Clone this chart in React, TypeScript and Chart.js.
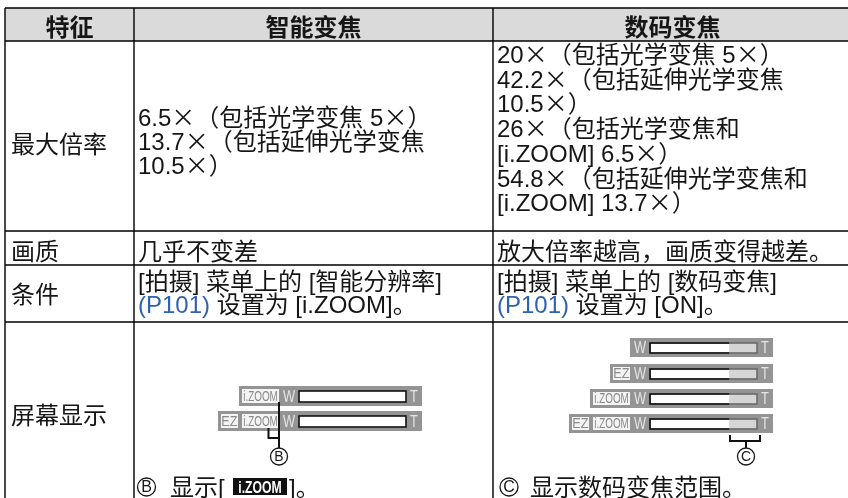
import React, { useEffect, useRef } from "react";
import { Chart, registerables } from "chart.js";

Chart.register(...registerables);

// ---------------- content ----------------
const columnHeaders = ["特征", "智能变焦", "数码变焦"];
const rowLabels = ["最大倍率", "画质", "条件", "屏幕显示"];

const smartZoomMaxLines = ["6.5×（包括光学变焦 5×）", "13.7×（包括延伸光学变焦", "10.5×）"];
const digitalZoomMaxLines = [
  "20×（包括光学变焦 5×）",
  "42.2×（包括延伸光学变焦",
  "10.5×）",
  "26×（包括光学变焦和",
  "[i.ZOOM] 6.5×）",
  "54.8×（包括延伸光学变焦和",
  "[i.ZOOM] 13.7×）",
];
const qualityTexts = ["几乎不变差", "放大倍率越高，画质变得越差。"];

type Seg = { t: string; link?: boolean };
const smartConditionLines: Seg[][] = [
  [{ t: "[拍摄] 菜单上的 [智能分辨率]" }],
  [{ t: "(P101)", link: true }, { t: " 设置为 [i.ZOOM]。" }],
];
const digitalConditionLines: Seg[][] = [
  [{ t: "[拍摄] 菜单上的 [数码变焦]" }],
  [{ t: "(P101)", link: true }, { t: " 设置为 [ON]。" }],
];

const smartIndicators = [["i.ZOOM"], ["EZ", "i.ZOOM"]];
const digitalIndicators = [[], ["EZ"], ["i.ZOOM"], ["EZ", "i.ZOOM"]];
const digitalRangeShare = [0, 0.26, 0.26, 0.26, 0.26];
const smartCaption = { mark: "B", before: "显示", tag: "i.ZOOM", after: "。" };
const digitalCaption = { mark: "C", text: "显示数码变焦范围。" };

// ---------------- layout / style ----------------
const W = 848;
const H = 498;
const colEdges = [5, 134, 493, 852];
const rowEdges = [8, 41, 231, 265, 322, 560];
const CJK_FONT = '"Noto Sans CJK SC"';
const LAT_FONT = '"Liberation Sans"';
const CJK_SIZE = 24;
const LAT_SIZE = 24;
const TEXT = "#161616";
const LINK = "#2f62ad";
const HEADER_BG = "#dadada";
const STRIP = "#949494";

function isCJK(ch: string) {
  const c = ch.codePointAt(0) || 0;
  return c >= 0x2e80 || ch === "×";
}

function splitRuns(text: string) {
  const runs: { t: string; cjk: boolean }[] = [];
  for (const ch of Array.from(text)) {
    const c = isCJK(ch);
    const last = runs[runs.length - 1];
    if (last && last.cjk === c) last.t += ch;
    else runs.push({ t: ch, cjk: c });
  }
  return runs;
}

function richWidth(ctx: CanvasRenderingContext2D, segs: Seg[], bold = false) {
  let w = 0;
  for (const s of segs)
    for (const r of splitRuns(s.t)) {
      ctx.font = `${bold ? "bold " : ""}${r.cjk ? CJK_SIZE : LAT_SIZE}px ${r.cjk ? CJK_FONT : LAT_FONT}`;
      w += ctx.measureText(r.t).width;
    }
  return w;
}

function drawRich(ctx: CanvasRenderingContext2D, x: number, base: number, segs: Seg[], bold = false) {
  let cx = x;
  ctx.textBaseline = "alphabetic";
  ctx.textAlign = "left";
  for (const s of segs)
    for (const r of splitRuns(s.t)) {
      ctx.font = `${bold ? "bold " : ""}${r.cjk ? CJK_SIZE : LAT_SIZE}px ${r.cjk ? CJK_FONT : LAT_FONT}`;
      ctx.fillStyle = s.link ? LINK : TEXT;
      ctx.fillText(r.t, cx, base);
      cx += ctx.measureText(r.t).width;
    }
  return cx;
}

function narrowText(
  ctx: CanvasRenderingContext2D,
  text: string,
  cx: number,
  base: number,
  size: number,
  color: string,
  squeeze = 0.72,
  bold = false
) {
  ctx.save();
  ctx.font = `${bold ? "bold " : ""}${size}px ${LAT_FONT}`;
  const w = ctx.measureText(text).width * squeeze;
  ctx.translate(cx - w / 2, base);
  ctx.scale(squeeze, 1);
  ctx.fillStyle = color;
  ctx.textAlign = "left";
  ctx.textBaseline = "alphabetic";
  ctx.fillText(text, 0, 0);
  ctx.restore();
}

function drawStrip(
  ctx: CanvasRenderingContext2D,
  R: number,
  top: number,
  h: number,
  labels: string[],
  share: number
) {
  let x = R - 141;
  const boxes: { label: string; left: number; w: number }[] = [];
  for (let i = labels.length - 1; i >= 0; i--) {
    const w = labels[i] === "EZ" ? 17 : 37;
    const right = x - 2;
    boxes.push({ label: labels[i], left: right - w, w });
    x = right - w - 2;
  }
  const left = labels.length ? x - 1 : R - 143;
  ctx.fillStyle = STRIP;
  ctx.fillRect(left, top, R - left, h);
  for (const b of boxes) {
    ctx.fillStyle = "#f4f4f4";
    ctx.fillRect(b.left, top + 3, b.w, h - 6);
    narrowText(ctx, b.label, b.left + b.w / 2, top + h - 5, 15, "#8a8a8a", b.label === "EZ" ? 0.85 : 0.66);
  }
  narrowText(ctx, "W", R - 133, top + h - 4, 16, "#e4e4e4", 0.8);
  narrowText(ctx, "T", R - 8, top + h - 4, 16, "#e4e4e4", 0.8);
  const bl = R - 123;
  const br = R - 16;
  const bt = top + 5;
  const bb = top + h - 4;
  ctx.fillStyle = "#ffffff";
  ctx.fillRect(bl, bt, br - bl, bb - bt);
  if (share > 0) {
    const gx = br - (br - bl) * share;
    ctx.fillStyle = "#d5d5d5";
    ctx.fillRect(gx, bt, br - gx, bb - bt);
    ctx.strokeStyle = "#6a6a6a";
    ctx.lineWidth = 1.6;
    ctx.strokeRect(bl, bt, br - bl, bb - bt);
    ctx.strokeStyle = "#111";
    ctx.beginPath();
    ctx.moveTo(gx, bt);
    ctx.lineTo(bl, bt);
    ctx.lineTo(bl, bb);
    ctx.lineTo(gx, bb);
    ctx.stroke();
  } else {
    ctx.strokeStyle = "#111";
    ctx.lineWidth = 1.6;
    ctx.strokeRect(bl, bt, br - bl, bb - bt);
  }
}

function circled(ctx: CanvasRenderingContext2D, cx: number, cy: number, letter: string, r = 8.5, size = 14) {
  ctx.beginPath();
  ctx.arc(cx, cy, r, 0, Math.PI * 2);
  ctx.strokeStyle = TEXT;
  ctx.lineWidth = 1.3;
  ctx.stroke();
  ctx.font = `${size}px ${LAT_FONT}`;
  ctx.fillStyle = TEXT;
  ctx.textAlign = "center";
  ctx.textBaseline = "middle";
  ctx.fillText(letter, cx, cy + 1);
  ctx.textAlign = "left";
}

const tablePlugin = {
  id: "tableDraw",
  afterDraw(chart: any) {
    const ctx: CanvasRenderingContext2D = chart.ctx;
    const xs = chart.scales.x;
    const ys = chart.scales.y;
    const X = (v: number) => xs.getPixelForValue(v);
    const Y = (v: number) => ys.getPixelForValue(v);
    ctx.save();

    // header background
    ctx.fillStyle = HEADER_BG;
    ctx.fillRect(X(colEdges[0]), Y(rowEdges[0]), X(colEdges[3]) - X(colEdges[0]), Y(rowEdges[1]) - Y(rowEdges[0]));

    // grid
    ctx.strokeStyle = "#000";
    ctx.lineWidth = 1.4;
    ctx.beginPath();
    for (const r of rowEdges.slice(0, 5)) {
      ctx.moveTo(X(colEdges[0]), Y(r));
      ctx.lineTo(X(colEdges[3]), Y(r));
    }
    for (const c of colEdges) {
      ctx.moveTo(X(c), Y(rowEdges[0]));
      ctx.lineTo(X(c), Y(rowEdges[5]));
    }
    ctx.stroke();

    // headers
    columnHeaders.forEach((h, i) => {
      const segs = [{ t: h }];
      const w = richWidth(ctx, segs, true);
      const cx = (X(colEdges[i]) + X(colEdges[i + 1])) / 2;
      drawRich(ctx, cx - w / 2, Y(35.5), segs, true);
    });

    // row labels
    const labelBase = [153, 260, 303, 424];
    rowLabels.forEach((l, i) => drawRich(ctx, X(11), Y(labelBase[i]), [{ t: l }]));

    const c2 = X(138);
    const c3 = X(497);
    // max zoom
    smartZoomMaxLines.forEach((l, i) => drawRich(ctx, c2, Y(126 + i * 24.2), [{ t: l }]));
    digitalZoomMaxLines.forEach((l, i) => drawRich(ctx, c3, Y(63 + i * 24.7), [{ t: l }]));
    // quality
    drawRich(ctx, c2, Y(260), [{ t: qualityTexts[0] }]);
    drawRich(ctx, c3, Y(260), [{ t: qualityTexts[1] }]);
    // condition
    smartConditionLines.forEach((l, i) => drawRich(ctx, c2, Y(290 + i * 23), l));
    digitalConditionLines.forEach((l, i) => drawRich(ctx, c3, Y(290 + i * 23), l));

    // indicators (smart zoom)
    const leftTops = [386, 411];
    smartIndicators.forEach((labs, i) => drawStrip(ctx, X(422), Y(leftTops[i]), 20, labs, digitalRangeShare[0]));
    const rightTops = [338, 364, 389, 414];
    digitalIndicators.forEach((labs, i) =>
      drawStrip(ctx, X(773), Y(rightTops[i]), 19, labs, digitalRangeShare[i + 1])
    );

    // smart bracket
    ctx.strokeStyle = "#111";
    ctx.lineWidth = 2;
    ctx.beginPath();
    ctx.moveTo(X(279), Y(402));
    ctx.lineTo(X(279), Y(448));
    ctx.moveTo(X(268.5), Y(428));
    ctx.lineTo(X(268.5), Y(438));
    ctx.lineTo(X(279), Y(438));
    ctx.stroke();
    circled(ctx, X(279), Y(456.5), smartCaption.mark);

    // digital bracket
    ctx.strokeStyle = "#111";
    ctx.lineWidth = 2;
    ctx.beginPath();
    ctx.moveTo(X(730), Y(435));
    ctx.lineTo(X(730), Y(441));
    ctx.lineTo(X(760), Y(441));
    ctx.lineTo(X(760), Y(435));
    ctx.moveTo(X(746), Y(441));
    ctx.lineTo(X(746), Y(448));
    ctx.stroke();
    circled(ctx, X(746), Y(456.5), digitalCaption.mark);

    // captions
    circled(ctx, X(146.5), Y(487), smartCaption.mark, 9, 16);
    drawRich(ctx, X(170), Y(496), [{ t: smartCaption.before }]);
    drawRich(ctx, X(218), Y(496), [{ t: "[" }]);
    ctx.fillStyle = "#111";
    ctx.fillRect(X(233), Y(478), 54, 17);
    narrowText(ctx, smartCaption.tag, X(260), Y(493), 17, "#ffffff", 0.72, true);
    drawRich(ctx, X(289), Y(496), [{ t: "]" + smartCaption.after }]);

    circled(ctx, X(509), Y(487), digitalCaption.mark, 9, 16);
    drawRich(ctx, X(530), Y(496), [{ t: digitalCaption.text }]);

    ctx.restore();
  },
};

export default function App() {
  const ref = useRef<HTMLCanvasElement | null>(null);
  useEffect(() => {
    if (!ref.current) return;
    const chart = new Chart(ref.current, {
      type: "scatter",
      data: { datasets: [{ data: [], pointRadius: 0 }] },
      options: {
        responsive: false,
        animation: false,
        devicePixelRatio: 1,
        layout: { padding: 0 },
        plugins: { legend: { display: false }, tooltip: { enabled: false } },
        scales: {
          x: { type: "linear", min: 0, max: W, display: false },
          y: { type: "linear", min: 0, max: H, reverse: true, display: false },
        },
      },
      plugins: [tablePlugin],
    });
    return () => chart.destroy();
  }, []);
  return (
    <div style={{ position: "absolute", left: 0, top: 0, width: W, height: H, background: "#fff" }}>
      <canvas ref={ref} width={W} height={H} style={{ width: W, height: H, display: "block" }} />
    </div>
  );
}
